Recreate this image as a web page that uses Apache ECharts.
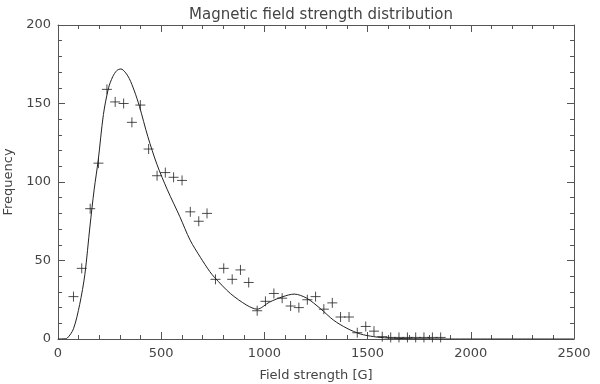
<!DOCTYPE html>
<html>
<head>
<meta charset="utf-8">
<script src="https://cdn.jsdelivr.net/npm/echarts@6/dist/echarts.min.js"></script>
<style>
  html, body { margin: 0; padding: 0; background: #fff; }
  #chart { width: 600px; height: 384px; }
</style>
</head>
<body>
<div id="chart"></div>
<script>
// histogram points (bin centre in G, count)
const fieldBins = [75, 115, 156, 196, 237, 277, 318, 358, 399, 439, 480, 520, 560, 601, 641, 682, 722, 763, 803, 844,
  884, 924, 965, 1005, 1046, 1086, 1127, 1167, 1208, 1248, 1288, 1329, 1369, 1410, 1450, 1491, 1531, 1571, 1612, 1652,
  1693, 1733, 1773, 1814, 1854];
const counts = [27, 45, 83, 112, 159, 151, 150, 138, 149, 121, 104, 106, 103, 101, 81, 75, 80, 38, 45, 38,
  44, 36, 18, 24, 29, 26, 21, 20, 25, 27, 19, 23, 14, 14, 4, 8, 5, 1.5, 1, 1,
  1, 1, 1, 1, 1];

// fitted curve
const fitX = [0, 25, 45, 75, 105, 130, 155, 175, 195, 220, 245, 265, 285, 305, 325, 345, 370, 395, 435, 480,
  530, 590, 640, 690, 735, 760, 835, 915, 965, 1025, 1090, 1145, 1205, 1270, 1335, 1400, 1465, 1530, 1600, 1700,
  1800, 1900, 2000, 2500];
const fitY = [0, 0.1, 0.6, 6.5, 22, 41, 72, 95, 114, 143, 160, 167, 171, 172, 170, 166, 158, 148, 129, 111,
  95, 78, 63, 52, 43, 39, 29, 21.5, 19, 23.5, 27, 28.6, 26, 19.5, 12, 6.8, 3.2, 1.5, 0.6, 0.2,
  0.1, 0, 0, 0];

const chart = echarts.init(document.getElementById("chart"));

const font = "DejaVu Sans";
const axisColor = "#555";
const inkColor = "#222";
const textColor = "#444";

const baseAxis = {
  type: "value",
  axisLine: { show: true, onZero: false, lineStyle: { color: axisColor, width: 1 } },
  axisTick: { show: true, inside: true, length: 7, lineStyle: { color: axisColor } },
  minorTick: { show: true, splitNumber: 5, length: 4, lineStyle: { color: axisColor } },
  splitLine: { show: false },
  minorSplitLine: { show: false }
};

const option = {
  animation: false,
  backgroundColor: "#fff",
  title: {
    text: "Magnetic field strength distribution",
    left: 316,
    textAlign: "center",
    top: 3,
    textStyle: { fontFamily: font, fontSize: 15, fontWeight: "normal", color: textColor }
  },
  grid: { left: 58, right: 26, top: 25, bottom: 45, containLabel: false, outerBoundsMode: "none" },
  xAxis: [
    Object.assign({}, baseAxis, {
      min: 0, max: 2500, interval: 500,
      position: "bottom",
      name: "Field strength [G]",
      nameLocation: "middle",
      nameGap: 30,
      nameTextStyle: { fontFamily: font, fontSize: 13, color: textColor },
      axisLabel: { fontFamily: font, fontSize: 13, color: textColor, margin: 8, formatter: v => String(v) }
    }),
    Object.assign({}, baseAxis, {
      min: 0, max: 2500, interval: 500,
      position: "top",
      axisLabel: { show: false }
    })
  ],
  yAxis: [
    Object.assign({}, baseAxis, {
      min: 0, max: 200, interval: 50,
      position: "left",
      name: "Frequency",
      nameLocation: "middle",
      nameGap: 42,
      nameTextStyle: { fontFamily: font, fontSize: 13, color: textColor },
      axisLabel: { fontFamily: font, fontSize: 13, color: textColor, margin: 7 }
    }),
    Object.assign({}, baseAxis, {
      min: 0, max: 200, interval: 50,
      position: "right",
      axisLabel: { show: false }
    })
  ],
  series: [
    {
      name: "Fit",
      type: "line",
      data: fitX.map((x, i) => [x, fitY[i]]),
      smooth: 0.3,
      showSymbol: false,
      symbol: "none",
      lineStyle: { color: inkColor, width: 1 },
      z: 3
    },
    {
      name: "Histogram",
      type: "scatter",
      data: fieldBins.map((x, i) => [x, counts[i]]),
      symbol: "path://M0,5L10,5M5,0L5,10",
      symbolSize: 10,
      itemStyle: { color: "transparent", borderColor: inkColor, borderWidth: 1 },
      z: 4
    }
  ]
};

chart.setOption(option);
window.addEventListener("resize", () => chart.resize());
</script>
</body>
</html>
